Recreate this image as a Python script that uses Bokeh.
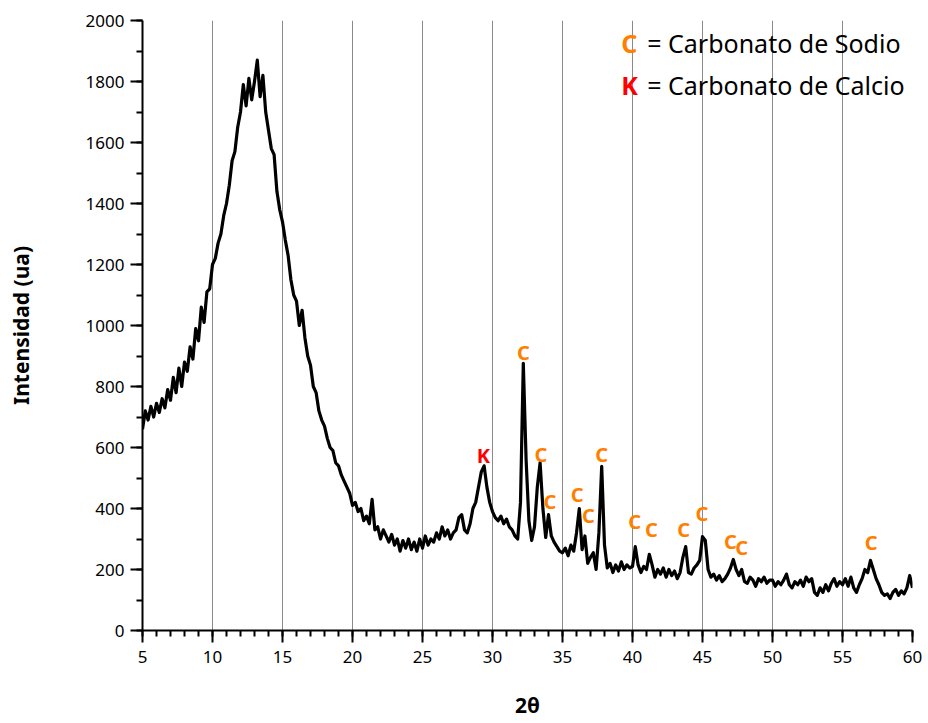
import numpy as np
from bokeh.plotting import figure
from bokeh.models import Range1d, SingleIntervalTicker, FixedTicker, ColumnDataSource
from bokeh.core.properties import value
from bokeh.embed import file_html
from bokeh.resources import INLINE

# 2-theta sampling grid (0.2 degree steps, 5..60)
two_theta = [round(5.0 + 0.2 * i, 1) for i in range(276)]

# intensity, 5 degrees per segment
seg_05 = [660, 720, 690, 735, 700, 745, 715, 760, 730, 790, 755, 830, 780, 860, 800,
          880, 850, 930, 890, 990, 950, 1060, 1010, 1110, 1120]
seg_10 = [1200, 1220, 1270, 1300, 1360, 1400, 1460, 1540, 1570, 1650, 1700, 1790, 1720,
          1810, 1740, 1800, 1870, 1750, 1820, 1700, 1640, 1580, 1560, 1440, 1380]
seg_15 = [1340, 1280, 1230, 1150, 1100, 1080, 1000, 1050, 960, 900, 870, 800, 780, 720,
          690, 670, 630, 600, 590, 550, 540, 510, 490, 470, 450]
seg_20 = [410, 420, 390, 400, 360, 375, 350, 430, 330, 340, 300, 330, 310, 290, 315,
          280, 300, 260, 295, 270, 300, 265, 290, 260, 300]
seg_25 = [270, 310, 280, 300, 290, 320, 300, 340, 310, 330, 300, 320, 330, 370, 380,
          330, 320, 350, 400, 420, 470, 520, 540, 470, 420]
seg_30 = [390, 370, 360, 375, 350, 365, 340, 330, 310, 300, 420, 876, 560, 360, 295,
          340, 470, 550, 400, 305, 380, 310, 290, 275, 260]
seg_35 = [255, 270, 245, 280, 260, 320, 400, 265, 310, 220, 240, 255, 200, 320, 538,
          280, 205, 220, 190, 215, 195, 225, 200, 215, 205]
seg_40 = [210, 275, 215, 190, 210, 200, 250, 215, 175, 200, 185, 205, 175, 200, 180,
          195, 170, 190, 240, 275, 190, 185, 205, 215, 230]
seg_45 = [308, 295, 200, 175, 185, 165, 180, 160, 170, 185, 205, 233, 200, 180, 200,
          160, 155, 175, 165, 145, 170, 160, 175, 155, 165]
seg_50 = [165, 145, 160, 150, 165, 185, 150, 140, 160, 150, 165, 145, 175, 160, 170,
          125, 115, 140, 125, 150, 130, 155, 170, 145, 160]
seg_55 = [150, 170, 145, 175, 140, 125, 150, 170, 200, 190, 230, 200, 170, 150, 125,
          115, 120, 105, 125, 135, 115, 130, 120, 140, 180, 140]

intensity = seg_05 + seg_10 + seg_15 + seg_20 + seg_25 + seg_30 + seg_35 + seg_40 + seg_45 + seg_50 + seg_55

# peak marks (position of the letter)
c_label_x = [32.2, 33.45, 34.1, 36.05, 36.85, 37.8, 40.15, 41.35, 43.65, 44.95, 47.0, 47.8, 57.05]
c_label_y = [911, 577, 423, 446, 377, 577, 357, 331, 331, 384, 292, 272, 289]
k_label_x = [29.35]
k_label_y = [574]

x_grid_ticks = [10, 15, 20, 25, 30, 35, 40, 45, 50, 55]

FONT = "Noto Sans"
ORANGE = "#FF8000"
RED = "#FF0000"

p = figure(width=926, height=722, output_backend="svg", toolbar_location=None,
           x_range=Range1d(5, 60), y_range=Range1d(0, 2000),
           min_border_left=142, min_border_right=14, min_border_top=20, min_border_bottom=92)
p.outline_line_color = None
p.background_fill_color = "white"
p.border_fill_color = "white"

p.ygrid.grid_line_color = None
p.xgrid.ticker = FixedTicker(ticks=x_grid_ticks)
p.xgrid.grid_line_color = "#8a8a8a"
p.xgrid.grid_line_width = 1

p.xaxis.ticker = SingleIntervalTicker(interval=5, num_minor_ticks=5)
p.yaxis.ticker = SingleIntervalTicker(interval=200, num_minor_ticks=2)
for ax in (p.xaxis, p.yaxis):
    ax.axis_line_width = 2
    ax.axis_line_color = "black"
    ax.major_tick_line_width = 2
    ax.minor_tick_line_width = 2
    ax.major_tick_line_color = "black"
    ax.minor_tick_line_color = "black"
    ax.major_tick_in = 0
    ax.major_tick_out = 12
    ax.minor_tick_in = 0
    ax.minor_tick_out = 6
    ax.major_label_text_font = FONT
    ax.major_label_text_font_size = "17px"
    ax.major_label_text_color = "black"
    ax.axis_label_text_font = FONT
    ax.axis_label_text_font_style = "bold"
    ax.axis_label_text_font_size = "21px"
    ax.axis_label_text_color = "black"

p.xaxis.axis_label = "2θ"
p.xaxis.major_label_standoff = 8
p.xaxis.axis_label_standoff = 25
p.yaxis.axis_label = "Intensidad (ua)"
p.yaxis.major_label_standoff = 6
p.yaxis.axis_label_standoff = 48

p.line(two_theta, intensity, line_color="black", line_width=3.2, line_join="round")

c_src = ColumnDataSource(dict(x=c_label_x, y=c_label_y, t=["C"] * len(c_label_x)))
p.text(x="x", y="y", text="t", source=c_src, text_color=ORANGE, text_font=value(FONT),
       text_font_style="bold", text_font_size="20px", text_align="center", text_baseline="middle")
k_src = ColumnDataSource(dict(x=k_label_x, y=k_label_y, t=["K"] * len(k_label_x)))
p.text(x="x", y="y", text="t", source=k_src, text_color=RED, text_font=value(FONT),
       text_font_style="bold", text_font_size="20px", text_align="center", text_baseline="middle")

# key in the upper right
key_letters = ["C", "K"]
key_colors = [ORANGE, RED]
key_names = ["= Carbonato de Sodio", "= Carbonato de Calcio"]
key_x_letter = [39.2, 39.2]
key_x_name = [41.05, 41.05]
key_y = [1925, 1787]
p.text(x=key_x_letter, y=key_y, text=key_letters, text_color=key_colors, text_font=value(FONT),
       text_font_style="bold", text_font_size="25px", text_align="left", text_baseline="middle")
p.text(x=key_x_name, y=key_y, text=key_names, text_color="black", text_font=value(FONT),
       text_font_size="25px", text_align="left", text_baseline="middle")

open("out.html", "w").write(file_html(p, INLINE))
